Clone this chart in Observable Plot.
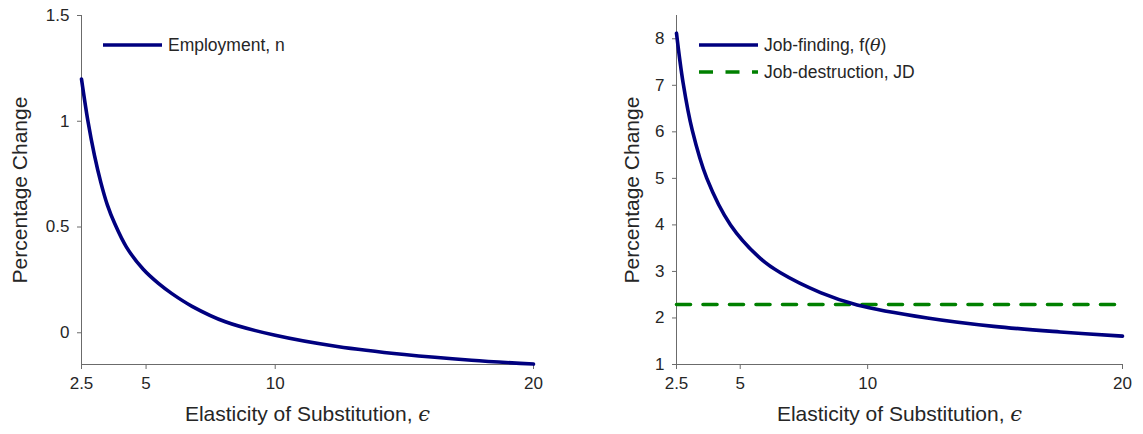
<!DOCTYPE html>
<html><head><meta charset="utf-8">
<script src="https://cdn.jsdelivr.net/npm/d3@7"></script>
<script src="https://cdn.jsdelivr.net/npm/@observablehq/plot@0.6"></script>
<style>
body{margin:0;background:#fff;font-family:"Liberation Sans",Arial,sans-serif;}
#wrap{position:relative;width:1143px;height:434px;overflow:hidden;}
.panel{position:absolute;top:0;}
</style></head><body><div id="wrap"></div>
<script>
// ---- data ----
const epsEmployment = [2.5, 2.75, 3.0, 3.25, 3.5, 3.79, 4.24, 4.89, 5.49, 6.0, 6.78, 8.07, 10, 12.4, 15, 17.6, 20];
const employment    = [1.20, 1.00, 0.84, 0.71, 0.605, 0.515, 0.405, 0.30, 0.232, 0.185, 0.125, 0.052, -0.012, -0.065, -0.103, -0.13, -0.148];

const epsJobFinding = [2.5, 2.76, 3.12, 3.69, 4.62, 5.81, 6.58, 8.15, 9.59, 12.34, 14.95, 17.56, 20];
const jobFinding    = [8.12, 7.05, 6.03, 5.0, 4.0, 3.27, 2.97, 2.545, 2.28, 2.0, 1.82, 1.70, 1.61];

const epsJobDestruction = [2.5, 20];
const jobDestruction    = [2.29, 2.29];

const xTicks = [2.5, 5, 10, 20];
const xDomain = [2.5, 20];
const yTicksLeft = [0, 0.5, 1, 1.5];
const yDomainLeft = [-0.15, 1.5];
const yTicksRight = [1, 2, 3, 4, 5, 6, 7, 8];
const yDomainRight = [1, 8.5];

const xLabel = "Elasticity of Substitution,";
const yLabel = "Percentage Change";
const legendLeft = ["Employment, n"];
const legendRight = ["Job-finding, f(", "Job-destruction, JD"];

const NAVY = "#00007f", GREEN = "#008000", AXIS = "#6b6b6b", TEXT = "#262626";
const FONT = "'Liberation Sans', Arial, Helvetica, sans-serif";

const toRows = (xs, ys) => xs.map((x, i) => ({x, y: ys[i]}));

function panel({left, width, marginLeft, marginRight, yDomain, yTicks, yLabelOffset, marks}) {
  const p = Plot.plot({
    width, height: 434,
    marginLeft, marginRight, marginTop: 15, marginBottom: 70,
    style: {fontFamily: FONT, fontSize: "17px", color: TEXT, background: "transparent", overflow: "visible"},
    x: {domain: xDomain},
    y: {domain: yDomain},
    marks: [
      Plot.ruleX([xDomain[0]], {stroke: AXIS, strokeWidth: 1}),
      Plot.ruleY([yDomain[0]], {stroke: AXIS, strokeWidth: 1}),
      Plot.axisX({ticks: xTicks, tickFormat: d => String(d), tickSize: 5, tickPadding: 7, stroke: AXIS, fill: TEXT,
        label: xLabel, labelAnchor: "center", labelOffset: 56, labelArrow: "none"}),
      Plot.axisY({ticks: yTicks, tickFormat: d => String(d), tickSize: 4, tickPadding: 8, stroke: AXIS, fill: TEXT,
        label: yLabel, labelAnchor: "center", labelOffset: yLabelOffset, labelArrow: "none"}),
      ...marks
    ]
  });
  const svg = d3.select(p);
  const xl = svg.select('g[aria-label="x-axis label"]');
  xl.attr("font-size", "21px");
  const xt = xl.select("text");
  xt.text(xLabel + " ");
  xt.append("tspan").attr("font-family", "'DejaVu Serif', serif").attr("font-style", "italic").text("ϵ");
  const yl = svg.select('g[aria-label="y-axis label"]');
  yl.attr("font-size", "21px");
  yl.select("text").text(yLabel);
  const div = document.createElement("div");
  div.className = "panel";
  div.style.left = left + "px";
  div.appendChild(p);
  document.getElementById("wrap").appendChild(div);
}

panel({
  left: 0, width: 571, marginLeft: 81, marginRight: 38, yLabelOffset: 69,
  yDomain: yDomainLeft, yTicks: yTicksLeft,
  marks: [
    Plot.line(toRows(epsEmployment, employment), {x: "x", y: "y", stroke: NAVY, strokeWidth: 3.6, curve: "catmull-rom"})
  ]
});

panel({
  left: 571, width: 572, marginLeft: 105, marginRight: 21, yLabelOffset: 52,
  yDomain: yDomainRight, yTicks: yTicksRight,
  marks: [
    Plot.line(toRows(epsJobDestruction, jobDestruction), {x: "x", y: "y", stroke: GREEN, strokeWidth: 3.6, strokeDasharray: "14,12.5"}),
    Plot.line(toRows(epsJobFinding, jobFinding), {x: "x", y: "y", stroke: NAVY, strokeWidth: 3.6, curve: "catmull-rom"})
  ]
});

// ---- legends ----
const lg = d3.select("#wrap").append("svg")
  .attr("width", 1143).attr("height", 434)
  .style("position", "absolute").style("left", 0).style("top", 0)
  .style("font-family", FONT).style("font-size", "17.5px");

function legendItem(x0, y, label, stroke, dash, sym) {
  lg.append("line").attr("x1", x0).attr("x2", x0 + 59).attr("y1", y).attr("y2", y)
    .attr("stroke", stroke).attr("stroke-width", 3.6).attr("stroke-dasharray", dash || null);
  const t = lg.append("text").attr("x", x0 + 65).attr("y", y).attr("dy", "0.35em").attr("fill", TEXT).text(label);
  if (sym) {
    t.append("tspan").attr("font-family", "'DejaVu Serif', serif").attr("font-style", "italic").text(sym);
    t.append("tspan").text(")");
  }
}
legendItem(103, 45, legendLeft[0], NAVY);
legendItem(699, 45, legendRight[0], NAVY, null, "θ");
legendItem(699, 72, legendRight[1], GREEN, "14,12.5");
</script>
</body></html>
